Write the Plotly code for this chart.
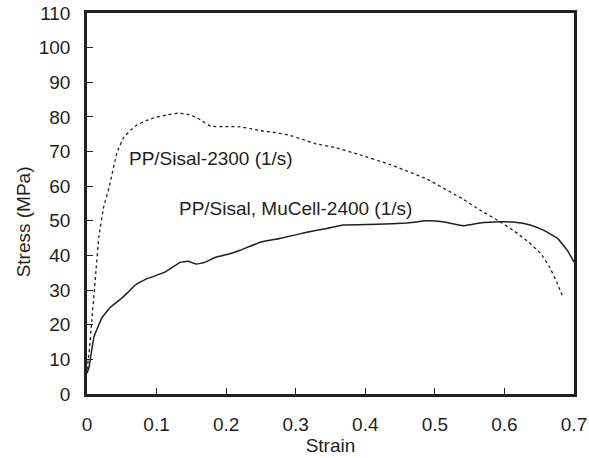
import plotly.graph_objects as go

# PP/Sisal-2300 (1/s)  (dotted)
strain_2300 = [0.0, 0.003, 0.007, 0.013, 0.017, 0.024, 0.032, 0.043, 0.053, 0.063, 0.072, 0.085, 0.098,
               0.115, 0.131, 0.145, 0.157, 0.164, 0.178, 0.20, 0.217, 0.235, 0.25, 0.27, 0.289,
               0.31, 0.328, 0.356, 0.39, 0.435, 0.489, 0.541, 0.565, 0.594, 0.615, 0.635, 0.652,
               0.665, 0.675, 0.684]
stress_2300 = [7.0, 11.8, 21.4, 35.8, 45.3, 54.0, 59.8, 69.6, 74.2, 76.2, 77.7, 78.9, 79.8,
               80.6, 81.1, 80.7, 79.9, 79.0, 77.3, 77.2, 77.2, 76.6, 76.0, 75.5, 74.8,
               73.5, 72.3, 71.2, 69.2, 66.3, 62.0, 56.2, 53.1, 49.7, 46.9, 43.8, 40.6,
               36.6, 32.4, 28.0]

# PP/Sisal, MuCell-2400 (1/s)  (solid)
strain_2400 = [0.0, 0.003, 0.01, 0.022, 0.034, 0.049, 0.058, 0.069, 0.082, 0.092, 0.112, 0.134, 0.145,
               0.157, 0.169, 0.185, 0.205, 0.22, 0.249, 0.277, 0.316, 0.345, 0.368, 0.417,
               0.46, 0.489, 0.515, 0.541, 0.565, 0.594, 0.615, 0.637, 0.656, 0.676, 0.69, 0.70]
stress_2400 = [6.0, 7.8, 16.5, 22.2, 25.1, 27.5, 29.2, 31.4, 32.9, 33.7, 35.2, 38.0, 38.3,
               37.5, 38.0, 39.5, 40.5, 41.5, 43.8, 44.9, 46.7, 47.8, 48.8, 49.0,
               49.4, 50.0, 49.6, 48.6, 49.4, 49.7, 49.6, 48.8, 47.3, 45.0, 41.6, 38.1]

x_ticks = [0, 0.1, 0.2, 0.3, 0.4, 0.5, 0.6, 0.7]
x_tick_labels = ["0", "0.1", "0.2", "0.3", "0.4", "0.5", "0.6", "0.7"]
y_ticks = list(range(0, 111, 10))
y_tick_labels = [str(v) for v in y_ticks]

label_2300 = "PP/Sisal-2300 (1/s)"
label_2400 = "PP/Sisal, MuCell-2400 (1/s)"

FONT = "Liberation Sans, Arial, sans-serif"
INK = "#231f20"
FS = 19

fig = go.Figure()
fig.add_trace(go.Scatter(x=strain_2300, y=stress_2300, mode="lines",
                         line=dict(color=INK, width=1.3, dash="dot", shape="spline", smoothing=0.3),
                         showlegend=False))
fig.add_trace(go.Scatter(x=strain_2400, y=stress_2400, mode="lines",
                         line=dict(color=INK, width=1.5, shape="spline", smoothing=0.3),
                         showlegend=False))

fig.add_annotation(x=0.0575, y=68.1, text=label_2300, showarrow=False,
                   xanchor="left", yanchor="middle", font=dict(family=FONT, size=FS, color=INK))
fig.add_annotation(x=0.129, y=53.7, text=label_2400, showarrow=False,
                   xanchor="left", yanchor="middle", font=dict(family=FONT, size=FS, color=INK))
# y-axis title
fig.add_annotation(xref="paper", yref="paper", x=-0.131, y=0.451, text="Stress (MPa)",
                   textangle=-90, showarrow=False, xanchor="center", yanchor="middle",
                   font=dict(family=FONT, size=FS, color=INK))

fig.update_layout(
    width=589, height=458,
    margin=dict(l=87, r=15, t=13, b=64),
    paper_bgcolor="white", plot_bgcolor="white",
    font=dict(family=FONT, size=FS, color=INK),
    xaxis=dict(range=[0, 0.7], tickvals=x_ticks, ticktext=x_tick_labels,
               ticks="inside", ticklen=6, tickwidth=1, tickcolor=INK,
               showline=True, linewidth=2.5, linecolor=INK, mirror=True,
               showgrid=False, zeroline=False, ticklabelstandoff=11, automargin=False,
               title=dict(text="Strain", standoff=5, font=dict(size=FS))),
    yaxis=dict(range=[0, 110], tickvals=y_ticks, ticktext=y_tick_labels,
               ticks="inside", ticklen=6, tickwidth=1, tickcolor=INK,
               showline=True, linewidth=2.5, linecolor=INK, mirror=True,
               showgrid=False, zeroline=False, ticklabelstandoff=10, automargin=False),
)

fig.write_html("out.html")
